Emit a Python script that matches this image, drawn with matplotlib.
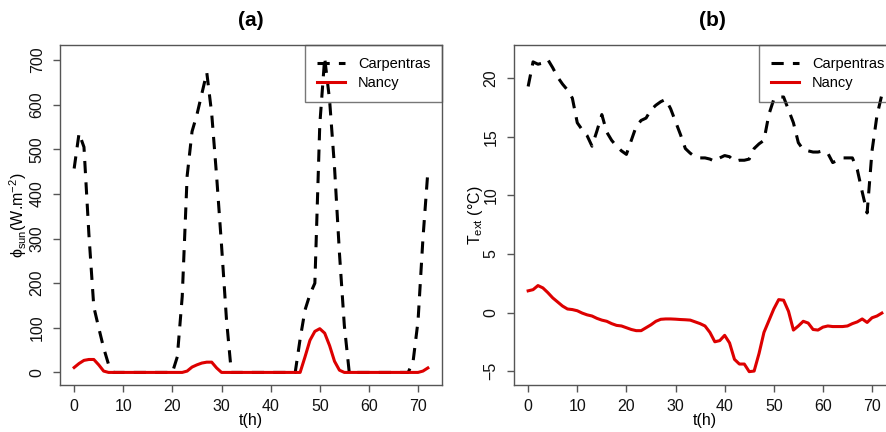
import matplotlib
matplotlib.use('Agg')
import matplotlib.pyplot as plt

plt.rcParams['font.family'] = ['Liberation Sans', 'DejaVu Sans']
plt.rcParams['mathtext.fontset'] = 'custom'
plt.rcParams['mathtext.rm'] = 'Liberation Sans'
plt.rcParams['mathtext.it'] = 'Liberation Sans:italic'

hours = list(range(73))

# solar flux (W/m2)
sun_carpentras = [457, 536, 505, 310, 147, 100, 55, 18, 0, 0,
                  0, 0, 0, 0, 0, 0, 0, 0, 0, 0,
                  0, 35, 170, 440, 540, 578, 625, 672, 580, 440,
                  285, 120, 0, 0, 0, 0, 0, 0, 0, 0,
                  0, 0, 0, 0, 0, 0, 75, 140, 175, 200,
                  555, 705, 610, 460, 268, 105, 0, 0, 0, 0,
                  0, 0, 0, 0, 0, 0, 0, 0, 0, 25,
                  115, 300, 450]
sun_nancy = [11, 20, 27, 29, 29, 17, 3, 0, 0, 0,
             0, 0, 0, 0, 0, 0, 0, 0, 0, 0,
             0, 0, 0, 3, 12, 17, 21, 23, 23, 10,
             0, 0, 0, 0, 0, 0, 0, 0, 0, 0,
             0, 0, 0, 0, 0, 0, 0, 35, 72, 92,
             98, 88, 60, 25, 5, 0, 0, 0, 0, 0,
             0, 0, 0, 0, 0, 0, 0, 0, 0, 0,
             0, 3, 10]

# outdoor temperature (deg C)
temp_carpentras = [19.3, 21.4, 21.2, 21.3, 21.6, 20.9, 20.1, 19.5, 19.0, 18.3,
                   16.2, 15.6, 15.1, 14.2, 15.5, 16.9, 15.4, 14.7, 14.2, 13.8,
                   13.5, 14.7, 15.9, 16.4, 16.6, 17.3, 17.7, 18.0, 18.2, 17.4,
                   16.3, 15.2, 14.0, 13.6, 13.3, 13.2, 13.2, 13.1, 12.9, 13.2,
                   13.4, 13.3, 12.9, 13.0, 13.0, 13.1, 14.0, 14.4, 14.7, 16.9,
                   18.2, 18.4, 18.4, 17.3, 16.2, 14.5, 13.9, 13.8, 13.7, 13.7,
                   13.8, 13.6, 12.8, 13.0, 13.2, 13.2, 13.2, 12.2, 10.3, 8.5,
                   13.8, 16.8, 18.6]
temp_nancy = [1.85, 1.95, 2.3, 2.1, 1.7, 1.25, 0.9, 0.55, 0.3, 0.25,
              0.15, -0.05, -0.2, -0.3, -0.5, -0.65, -0.75, -0.95, -1.1, -1.15,
              -1.3, -1.45, -1.55, -1.55, -1.3, -1.05, -0.75, -0.58, -0.55, -0.55,
              -0.57, -0.6, -0.62, -0.65, -0.8, -0.95, -1.15, -1.7, -2.5, -2.4,
              -1.95, -2.6, -4.0, -4.4, -4.4, -5.05, -5.0, -3.5, -1.7, -0.7,
              0.3, 1.1, 1.05, 0.1, -1.5, -1.15, -0.75, -0.9, -1.45, -1.5,
              -1.25, -1.15, -1.2, -1.2, -1.2, -1.15, -0.95, -0.8, -0.55, -0.85,
              -0.45, -0.3, -0.05]

city_labels = ['Carpentras', 'Nancy']
red = '#dd0000'
edge = '#555555'

fig = plt.figure(figsize=(8.87, 4.32), dpi=100)
ax1 = fig.add_axes([60 / 887, 1 - 385 / 432, 382 / 887, 340 / 432])
ax2 = fig.add_axes([514 / 887, 1 - 385 / 432, 382 / 887, 340 / 432])


def style_axes(ax, yticks):
    ax.set_xlim(-2.88, 74.88)
    ax.set_xticks(range(0, 71, 10))
    ax.set_yticks(yticks)
    for s in ax.spines.values():
        s.set_color(edge)
        s.set_linewidth(1.0)
    ax.tick_params(axis='both', length=5, width=1.0, color=edge, labelsize=11.5,
                   labelcolor='#111111')
    ax.tick_params(axis='x', pad=5)
    ax.tick_params(axis='y', pad=6, labelrotation=90)
    for lab in ax.get_yticklabels():
        lab.set_va('center')
    ax.set_xlabel('t(h)', fontsize=11.5, va='center')
    ax.xaxis.set_label_coords(0.5, -0.103)


def add_legend(ax):
    leg = ax.legend(city_labels, loc='upper right', borderaxespad=0, fancybox=False,
                    fontsize=10.5, handlelength=1.9, handletextpad=0.9,
                    labelspacing=0.38, borderpad=0.8)
    leg.get_frame().set_facecolor('none')
    leg.get_frame().set_edgecolor(edge)
    leg.get_frame().set_linewidth(1.0)


ax1.plot(hours, sun_carpentras, color='black', lw=2.2, dashes=(4, 3))
ax1.plot(hours, sun_nancy, color=red, lw=2.2)
ax1.set_ylim(-28.2, 733.8)
style_axes(ax1, range(0, 701, 100))
ax1.set_ylabel('ϕ$_{\\mathrm{sun}}$(W.m$^{-2}$)', fontsize=11.5, va='center')
ax1.yaxis.set_label_coords(-0.110, 0.5)
add_legend(ax1)

ax2.plot(hours, temp_carpentras, color='black', lw=2.2, dashes=(4, 3))
ax2.plot(hours, temp_nancy, color=red, lw=2.2)
ax2.set_ylim(-6.19, 22.84)
style_axes(ax2, range(-5, 21, 5))
ax2.set_ylabel(r'T$_{\mathrm{ext}}$ (°C)', fontsize=11.5, va='center')
ax2.yaxis.set_label_coords(-0.102, 0.5)
add_legend(ax2)

fig.text(251 / 887, 1 - 20 / 432, '(a)', fontsize=15, fontweight='bold', ha='center', va='center')
fig.text(712 / 887, 1 - 20 / 432, '(b)', fontsize=15, fontweight='bold', ha='center', va='center')

fig.savefig('out.png', dpi=100)
